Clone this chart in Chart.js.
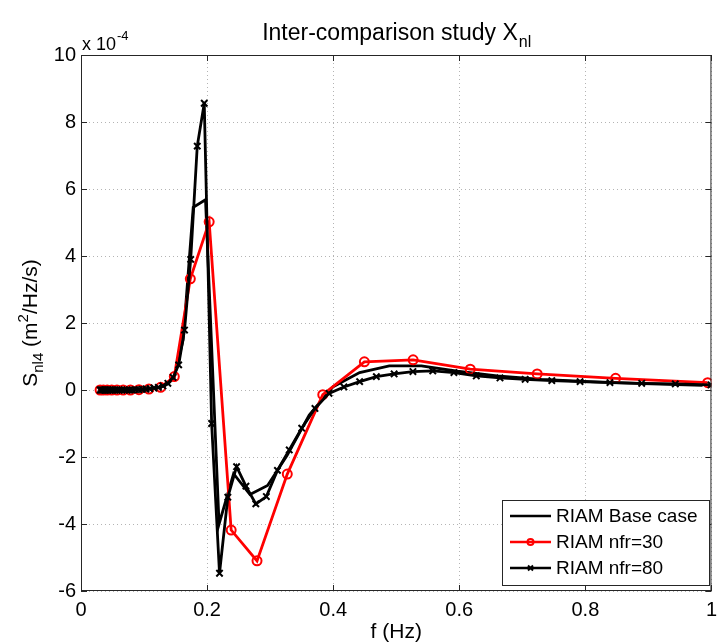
<!DOCTYPE html>
<html>
<head>
<meta charset="utf-8">
<script src="https://cdn.jsdelivr.net/npm/chart.js@4.4.1/dist/chart.umd.min.js"></script>
<style>
  html, body { margin: 0; padding: 0; background: #fff; }
  #wrap { width: 724px; height: 644px; position: relative; }
</style>
</head>
<body>
<div id="wrap"><canvas id="myChart" width="724" height="644"></canvas></div>
<script>
// values are in units of 1e-4 m^2/Hz/s (the axis carries the "x 10^-4" factor)

// RIAM Base case (line only)
const freqBase = [0.0300, 0.0330, 0.0363, 0.0400, 0.0440, 0.0484, 0.0532, 0.0585, 0.0644, 0.0708,
  0.0779, 0.0857, 0.0943, 0.1037, 0.1141, 0.1255, 0.1380, 0.1480, 0.1620, 0.1780,
  0.1975, 0.2190, 0.2420, 0.2680, 0.2960, 0.3270, 0.3620, 0.4000, 0.4420, 0.4890,
  0.5400, 0.5970, 0.6600, 0.7300, 0.8070, 0.8920, 0.9860];
const snlBase = [0, 0, 0, 0, 0, 0, 0, 0, 0, 0,
  0, 0, 0, 0.02, 0.04, 0.07, 0.18, 0.38, 1.5, 5.45,
  5.68, -4.0, -2.5, -3.12, -2.85, -1.95, -0.75, 0.1, 0.52, 0.72,
  0.72, 0.56, 0.42, 0.32, 0.25, 0.19, 0.14];

// RIAM nfr=30 (red, circles)
const freq30 = [0.0303, 0.0355, 0.0416, 0.0487, 0.0571, 0.0669, 0.0784, 0.0919, 0.1077, 0.1263,
  0.1480, 0.1734, 0.2033, 0.2382, 0.2792, 0.3272, 0.3835, 0.4495, 0.5268, 0.6174,
  0.7236, 0.8480, 0.9940];
const snl30 = [0, 0, 0, 0, 0, 0, 0, 0.01, 0.03, 0.08,
  0.40, 3.32, 5.02, -4.18, -5.10, -2.51, -0.14, 0.84, 0.90, 0.62,
  0.48, 0.35, 0.22];

// RIAM nfr=80 (black, x markers)
const freq80 = [0.0303, 0.0321, 0.0340, 0.0361, 0.0383, 0.0405, 0.0430, 0.0456, 0.0483, 0.0512,
  0.0543, 0.0575, 0.0610, 0.0646, 0.0685, 0.0726, 0.0770, 0.0816, 0.0865, 0.0917,
  0.0972, 0.1030, 0.1092, 0.1157, 0.1227, 0.1300, 0.1378, 0.1461, 0.1549, 0.1642,
  0.1740, 0.1844, 0.1955, 0.2072, 0.2197, 0.2329, 0.2468, 0.2616, 0.2773, 0.2940,
  0.3116, 0.3303, 0.3501, 0.3711, 0.3934, 0.4170, 0.4420, 0.4685, 0.4967, 0.5265,
  0.5580, 0.5915, 0.6270, 0.6646, 0.7045, 0.7468, 0.7916, 0.8390, 0.8894, 0.9427,
  0.9993];
const snl80 = [0, 0, 0, 0, 0, 0, 0, 0, 0, 0,
  0, 0, 0, 0, 0, 0, 0, 0, 0.01, 0.01,
  0.02, 0.03, 0.04, 0.06, 0.08, 0.12, 0.2, 0.38, 0.75, 1.79,
  3.9, 7.28, 8.56, -1.0, -5.47, -3.2, -2.29, -2.87, -3.40, -3.18,
  -2.40, -1.79, -1.14, -0.55, -0.10, 0.09, 0.25, 0.40, 0.48, 0.55,
  0.57, 0.52, 0.42, 0.36, 0.32, 0.28, 0.25, 0.22, 0.20, 0.18,
  0.15];

const seriesNames = ["RIAM Base case", "RIAM nfr=30", "RIAM nfr=80"];
const xTicks = [0, 0.2, 0.4, 0.6, 0.8, 1];
const yTicks = [-6, -4, -2, 0, 2, 4, 6, 8, 10];

const FONT = "'Liberation Sans', Arial, sans-serif";

function toPoints(xs, ys) {
  return xs.map((x, i) => ({ x: x, y: ys[i] }));
}

// box, inward ticks, titles and legend, MATLAB style
const decorPlugin = {
  id: "decor",
  afterDraw(chart) {
    const ctx = chart.ctx;
    const a = chart.chartArea;
    const sx = chart.scales.x;
    const sy = chart.scales.y;
    ctx.save();
    ctx.strokeStyle = "#262626";
    ctx.lineWidth = 1;
    ctx.strokeRect(a.left + 0.5, a.top + 0.5, a.right - a.left - 1, a.bottom - a.top - 1);
    ctx.beginPath();
    xTicks.forEach((v) => {
      const px = Math.round(sx.getPixelForValue(v)) + 0.5;
      ctx.moveTo(px, a.bottom); ctx.lineTo(px, a.bottom - 6);
      ctx.moveTo(px, a.top); ctx.lineTo(px, a.top + 6);
    });
    yTicks.forEach((v) => {
      const py = Math.round(sy.getPixelForValue(v)) + 0.5;
      ctx.moveTo(a.left, py); ctx.lineTo(a.left + 6, py);
      ctx.moveTo(a.right, py); ctx.lineTo(a.right - 6, py);
    });
    ctx.stroke();

    ctx.fillStyle = "#000";
    ctx.textBaseline = "alphabetic";

    // title with subscript
    const cx = (a.left + a.right) / 2;
    ctx.font = "23px " + FONT;
    const t1 = "Inter-comparison study X";
    const w1 = ctx.measureText(t1).width;
    ctx.font = "16px " + FONT;
    const w2 = ctx.measureText("nl").width;
    let tx = cx - (w1 + w2) / 2;
    ctx.font = "23px " + FONT;
    ctx.textAlign = "left";
    ctx.fillText(t1, tx, 40);
    ctx.font = "16px " + FONT;
    ctx.fillText("nl", tx + w1 + 1, 47);

    // exponent factor
    ctx.font = "18px " + FONT;
    ctx.fillText("x 10", a.left + 1, a.top - 5);
    const we = ctx.measureText("x 10").width;
    ctx.font = "13px " + FONT;
    ctx.fillText("-4", a.left + 2 + we, a.top - 15);

    // x label
    ctx.font = "21px " + FONT;
    ctx.textAlign = "center";
    ctx.fillText("f (Hz)", cx, 638);

    // y label, rotated, with sub/superscripts
    ctx.save();
    ctx.translate(37, (a.top + a.bottom) / 2);
    ctx.rotate(-Math.PI / 2);
    const parts = [
      { t: "S", f: 21, dy: 0 },
      { t: "nl4", f: 15, dy: 6 },
      { t: " (m", f: 21, dy: 0 },
      { t: "2", f: 15, dy: -9 },
      { t: "/Hz/s)", f: 21, dy: 0 },
    ];
    let total = 0;
    parts.forEach((p) => { ctx.font = p.f + "px " + FONT; p.w = ctx.measureText(p.t).width; total += p.w; });
    let px = -total / 2;
    ctx.textAlign = "left";
    parts.forEach((p) => {
      ctx.font = p.f + "px " + FONT;
      ctx.fillText(p.t, px, p.dy);
      px += p.w;
    });
    ctx.restore();

    // legend box
    const lx = 502, ly = 500, lw = 207, lh = 85;
    ctx.fillStyle = "#fff";
    ctx.fillRect(lx, ly, lw, lh);
    ctx.strokeStyle = "#262626";
    ctx.lineWidth = 1;
    ctx.strokeRect(lx + 0.5, ly + 0.5, lw, lh);
    const rows = [516, 542, 568];
    const sets = chart.data.datasets;
    rows.forEach((ry, i) => {
      const ds = sets[i];
      ctx.strokeStyle = ds.borderColor;
      ctx.lineWidth = 2.5;
      ctx.beginPath();
      ctx.moveTo(510, ry); ctx.lineTo(551, ry);
      ctx.stroke();
      if (ds.pointRadius > 0) {
        ctx.lineWidth = 2;
        ctx.beginPath();
        if (ds.pointStyle === "circle") {
          ctx.arc(530.5, ry, 3, 0, Math.PI * 2);
        } else {
          ctx.moveTo(528, ry - 2.5); ctx.lineTo(533, ry + 2.5);
          ctx.moveTo(528, ry + 2.5); ctx.lineTo(533, ry - 2.5);
        }
        ctx.stroke();
      }
      ctx.fillStyle = "#000";
      ctx.font = "19px " + FONT;
      ctx.textAlign = "left";
      ctx.textBaseline = "middle";
      ctx.fillText(seriesNames[i], 556, ry + 1);
    });
    ctx.restore();
  },
};

new Chart(document.getElementById("myChart"), {
  type: "line",
  data: {
    datasets: [
      {
        label: seriesNames[0],
        data: toPoints(freqBase, snlBase),
        borderColor: "#000000",
        borderWidth: 2.8,
        pointRadius: 0,
        tension: 0,
        order: 3,
      },
      {
        label: seriesNames[1],
        data: toPoints(freq30, snl30),
        borderColor: "#ff0000",
        backgroundColor: "rgba(0,0,0,0)",
        borderWidth: 2.8,
        pointStyle: "circle",
        pointRadius: 4.5,
        pointBorderWidth: 2,
        tension: 0,
        order: 2,
      },
      {
        label: seriesNames[2],
        data: toPoints(freq80, snl80),
        borderColor: "#000000",
        backgroundColor: "rgba(0,0,0,0)",
        borderWidth: 2.8,
        pointStyle: "crossRot",
        pointRadius: 4.5,
        pointBorderWidth: 2,
        tension: 0,
        order: 1,
      },
    ],
  },
  options: {
    responsive: false,
    animation: false,
    devicePixelRatio: 1,
    layout: { padding: { left: 0, right: 10, top: 55, bottom: 0 } },
    plugins: {
      legend: { display: false },
      title: { display: false },
      tooltip: { enabled: false },
    },
    scales: {
      x: {
        type: "linear",
        min: 0,
        max: 1,
        afterFit: (s) => { s.height = 53; },
        afterBuildTicks: (s) => { s.ticks = xTicks.map((v) => ({ value: v })); },
        ticks: {
          padding: 7,
          color: "#000",
          font: { family: FONT, size: 20 },
          maxRotation: 0,
          callback: (v) => String(v),
        },
        grid: { color: "#b4b4b4", lineWidth: 1, drawTicks: false },
        border: { display: false, dash: [1, 3] },
      },
      y: {
        min: -6,
        max: 10,
        afterFit: (s) => { s.width = 81; },
        afterBuildTicks: (s) => { s.ticks = yTicks.map((v) => ({ value: v })); },
        ticks: {
          padding: 5,
          color: "#000",
          font: { family: FONT, size: 20 },
          callback: (v) => String(v),
        },
        grid: { color: "#b4b4b4", lineWidth: 1, drawTicks: false },
        border: { display: false, dash: [1, 3] },
      },
    },
  },
  plugins: [decorPlugin],
});
</script>
</body>
</html>
